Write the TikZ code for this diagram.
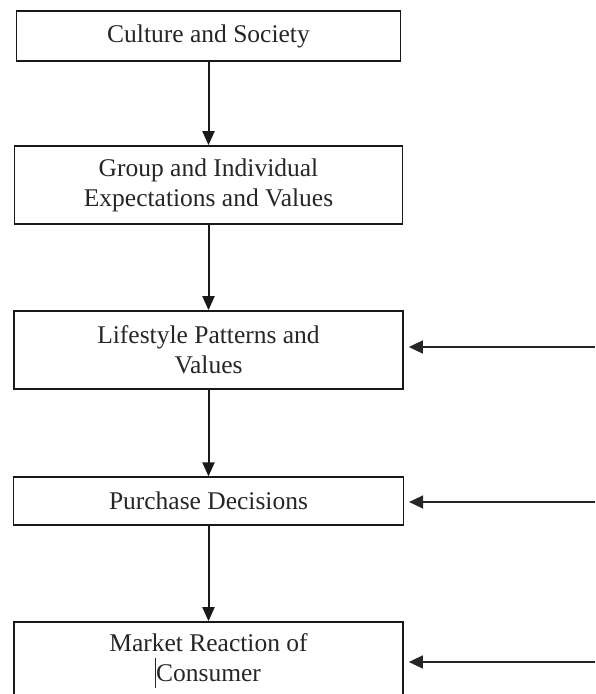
\documentclass[tikz,border=0pt]{standalone}
\usepackage{fontspec}
\setmainfont{Liberation Serif}
\usetikzlibrary{arrows.meta}
\begin{document}
\begin{tikzpicture}[x=1pt,y=-1pt,
  box/.style={draw=black!90, line width=1.7pt, rectangle, align=center,
    inner sep=0pt, text=black!85, font=\fontsize{25.5}{30}\selectfont},
  thinbox/.style={box, line width=1.2pt},
  down/.style={draw=black!90, line width=2pt,
    -{Triangle[length=14pt,width=12pt]}},
  side/.style={draw=black!85, line width=1.6pt,
    -{Triangle[length=14pt,width=13pt]}, shorten >=5pt}]
  \useasboundingbox (0,0) rectangle (595,694);

  % stacked stages
  \node[thinbox, minimum width=384pt, minimum height=50pt] (b1) at (208.5,36)
    {Culture and Society};
  \node[box, minimum width=388pt, minimum height=78pt] (b2) at (208.5,185)
    {Group and Individual\\Expectations and Values};
  \node[box, minimum width=389pt, minimum height=78pt] (b3) at (208.5,350)
    {Lifestyle Patterns and\\Values};
  \node[thinbox, minimum width=390pt, minimum height=48pt] (b4) at (208.5,501)
    {Purchase Decisions};
  \node[box, minimum width=389pt, minimum height=78pt] (b5) at (208.5,661)
    {Market Reaction of\\\llap{\rule[-7pt]{1pt}{30pt}}Consumer};

  % downward flow
  \draw[down] (b1.south) -- (b2.north);
  \draw[down] (b2.south) -- (b3.north);
  \draw[down] (b3.south) -- (b4.north);
  \draw[down] (b4.south) -- (b5.north);

  % inputs from the right
  \coordinate (r3) at (595,347);
  \coordinate (r4) at (595,502);
  \coordinate (r5) at (595,662);
  \draw[side] (r3) -- (b3.east |- r3);
  \draw[side] (r4) -- (b4.east |- r4);
  \draw[side] (r5) -- (b5.east |- r5);
\end{tikzpicture}
\end{document}
